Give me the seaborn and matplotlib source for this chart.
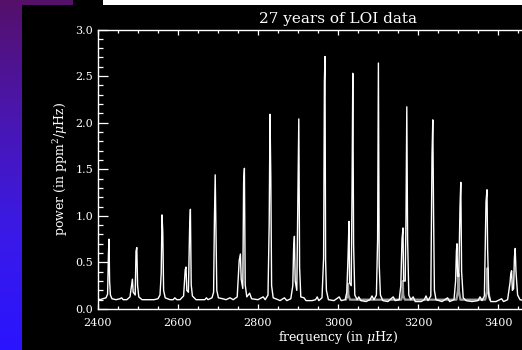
import numpy as np
import pandas as pd
import seaborn as sns
import matplotlib.pyplot as plt
from matplotlib.patches import Rectangle
from matplotlib.ticker import MultipleLocator
from matplotlib.colors import LinearSegmentedColormap

# spectrum vertices (frequency in uHz, power in ppm^2/uHz)
freq = [2400, 2405, 2412, 2420, 2424, 2426, 2427.5, 2429, 2431, 2435, 2445, 2455, 2459, 2463, 2472,
        2480, 2484, 2486, 2488, 2493, 2495, 2497, 2499, 2502, 2510, 2525, 2540, 2550, 2555, 2558,
        2560, 2562, 2564, 2568, 2580, 2588, 2592, 2597, 2605, 2614, 2618, 2620, 2622, 2626, 2629,
        2631, 2633, 2636, 2645, 2660, 2667, 2671, 2675, 2685, 2689, 2691, 2693, 2695, 2697, 2701,
        2712, 2720, 2730, 2738, 2748, 2753, 2756, 2758, 2762, 2764, 2766, 2768, 2772, 2779, 2784,
        2800, 2813, 2818, 2825, 2828, 2830, 2832, 2834, 2838, 2850,
        2855, 2866, 2872, 2882, 2887, 2889, 2891, 2893, 2897, 2900, 2902, 2904, 2907, 2915, 2920,
        2935, 2944, 2948, 2952, 2960, 2964, 2966, 2967.5, 2969, 2971, 2976, 2990, 3003, 3008, 3018,
        3022, 3025, 3027.5, 3029, 3033, 3035, 3037, 3039, 3042, 3048, 3052, 3057, 3070, 3080, 3085,
        3090, 3096, 3099, 3101, 3103, 3106, 3112, 3125, 3138, 3143, 3153, 3157, 3160, 3162.5, 3164,
        3168, 3170, 3172, 3174, 3177, 3182, 3188, 3193, 3208, 3216, 3220, 3225, 3232, 3235, 3237,
        3239, 3241, 3245, 3260, 3274, 3279, 3290, 3294, 3296, 3297.5, 3299, 3302, 3305, 3307, 3309,
        3313, 3320, 3335, 3350, 3355, 3360, 3366, 3370, 3372.5, 3374, 3377, 3382, 3395, 3409, 3414,
        3424, 3430, 3432, 3434, 3436, 3439, 3441, 3443, 3445, 3449, 3455, 3465, 3480, 3500]
power = [0.11, 0.10, 0.11, 0.12, 0.16, 0.58, 0.75, 0.30, 0.15, 0.11, 0.10, 0.11, 0.12, 0.10, 0.10,
         0.13, 0.26, 0.32, 0.18, 0.15, 0.62, 0.66, 0.25, 0.13, 0.10, 0.10, 0.10, 0.11, 0.15, 0.38,
         1.01, 0.82, 0.20, 0.12, 0.10, 0.10, 0.12, 0.10, 0.10, 0.14, 0.42, 0.45, 0.20, 0.18, 0.86,
         1.07, 0.26, 0.14, 0.10, 0.10, 0.10, 0.12, 0.10, 0.12, 0.18, 0.95, 1.44, 0.80, 0.20, 0.12,
         0.11, 0.10, 0.12, 0.10, 0.13, 0.52, 0.59, 0.32, 0.22, 1.35, 1.51, 0.26, 0.13, 0.17, 0.11,
         0.10, 0.13, 0.10, 0.15, 0.92, 2.09, 1.42, 0.25, 0.12, 0.10,
         0.09, 0.12, 0.09, 0.11, 0.25, 0.65, 0.78, 0.30, 0.20, 1.30, 2.04, 0.45, 0.13, 0.12, 0.09,
         0.09, 0.10, 0.13, 0.09, 0.12, 0.55, 2.45, 2.71, 0.52, 0.20, 0.10, 0.09, 0.13, 0.09, 0.10,
         0.18, 0.55, 0.94, 0.28, 0.25, 1.24, 2.53, 0.69, 0.15, 0.10, 0.13, 0.09, 0.08, 0.10, 0.14,
         0.10, 0.15, 0.74, 2.64, 0.48, 0.15, 0.09, 0.08, 0.13, 0.09, 0.10, 0.25, 0.75, 0.87, 0.30,
         0.30, 0.99, 2.17, 0.75, 0.15, 0.10, 0.13, 0.08, 0.08, 0.10, 0.14, 0.09, 0.14, 1.65, 2.03,
         0.99, 0.20, 0.10, 0.08, 0.12, 0.08, 0.10, 0.30, 0.62, 0.70, 0.35, 0.35, 1.10, 1.36, 0.40,
         0.12, 0.09, 0.08, 0.09, 0.13, 0.09, 0.14, 1.15, 1.28, 0.65, 0.14, 0.08, 0.08, 0.11, 0.08,
         0.10, 0.28, 0.38, 0.41, 0.20, 0.22, 0.55, 0.65, 0.40, 0.15, 0.10, 0.09, 0.09, 0.09]

# second (grey) trace, only visible next to a few peaks
gray_freq = [3020, 3024, 3025, 3026, 3030, 3158, 3161, 3162, 3163, 3167,
             3296, 3300, 3301, 3302, 3306, 3368, 3373, 3374, 3375, 3380]
gray_power = [0.10, 0.15, 0.27, 0.15, 0.10, 0.10, 0.15, 0.30, 0.15, 0.10,
              0.10, 0.20, 0.38, 0.20, 0.10, 0.10, 0.20, 0.44, 0.20, 0.10]

x_ticks = [2400, 2600, 2800, 3000, 3200, 3400]
y_ticks = [0.0, 0.5, 1.0, 1.5, 2.0, 2.5, 3.0]

spec = pd.DataFrame({"frequency": freq, "power": power})
spec_gray = pd.DataFrame({"frequency": gray_freq, "power": gray_power})

sns.set_theme(style="white")
plt.rcParams['font.family'] = ['DejaVu Serif']
plt.rcParams['mathtext.fontset'] = 'dejavuserif'

fig = plt.figure(figsize=(5.22, 3.5), dpi=100, facecolor='black')

# screenshot leftovers: coloured strip on the left, white bar on top
bg = fig.add_axes([0, 0, 1, 1], zorder=-1)
bg.set_xlim(0, 522)
bg.set_ylim(350, 0)
bg.axis('off')
strip = LinearSegmentedColormap.from_list('strip', ['#55106a', '#4a16b0', '#3a1ae8', '#2a14ff'])
bg.imshow(np.linspace(0, 1, 256)[:, None], cmap=strip, extent=(0, 22, 350, 0), aspect='auto')
bg.add_patch(Rectangle((0, 0), 73, 5, color='#55106a', lw=0))
bg.add_patch(Rectangle((103, 0), 419, 5, color='white', lw=0))

ax = fig.add_axes([98 / 522, 41 / 350, 480 / 522, 279.5 / 350])
ax.set_facecolor('black')

sns.lineplot(data=spec_gray, x="frequency", y="power", ax=ax, color='#a0a0a0',
             lw=1.6, estimator=None, sort=False)
sns.lineplot(data=spec, x="frequency", y="power", ax=ax, color='white',
             lw=1.0, estimator=None, sort=False)

ax.set_xlim(2400, 3600)
ax.set_ylim(0, 3.0)
ax.set_xticks(x_ticks)
ax.set_yticks(y_ticks)
ax.set_yticklabels([f"{v:.1f}" for v in y_ticks])
ax.xaxis.set_minor_locator(MultipleLocator(50))
ax.yaxis.set_minor_locator(MultipleLocator(0.1))

ax.tick_params(which='both', direction='in', colors='white', bottom=True, left=True,
               top=True, right=False, labelsize=8, width=0.9)
ax.tick_params(axis='x', which='major', length=3.8, pad=6.5)
ax.tick_params(axis='x', which='minor', length=2.2)
ax.tick_params(axis='y', which='major', length=7.2, pad=3.5)
ax.tick_params(axis='y', which='minor', length=3.6)
for s in ax.spines.values():
    s.set_color('white')
    s.set_linewidth(1.0)

ax.set_title("27 years of LOI data", color='white', fontsize=11, pad=5)
ax.set_xlabel(r"frequency (in $\mu$Hz)", color='white', fontsize=9, labelpad=1)
ax.set_ylabel(r"power (in ppm$^2$/$\mu$Hz)", color='white', fontsize=9, labelpad=4)

fig.savefig("out.png", dpi=100, facecolor='black')
